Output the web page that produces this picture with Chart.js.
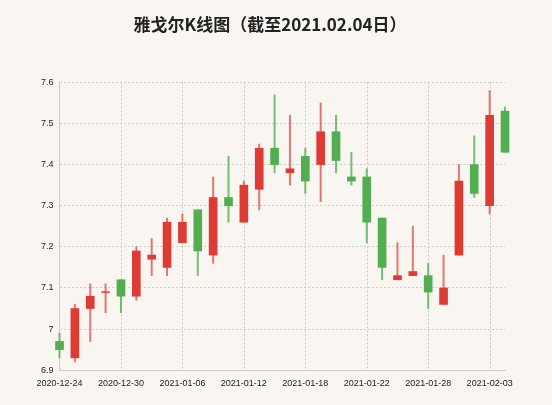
<!DOCTYPE html>
<html><head><meta charset="utf-8">
<script src="https://cdn.jsdelivr.net/npm/chart.js@4"></script>
<style>body{margin:0;background:#f9f6f1}#c{width:552px;height:405px}</style>
</head><body><div id="c"><canvas id="cv"></canvas></div>
<script>
const dates = ['2020-12-24','2020-12-25','2020-12-28','2020-12-29','2020-12-30','2020-12-31','2021-01-04','2021-01-05','2021-01-06','2021-01-07','2021-01-08','2021-01-11','2021-01-12','2021-01-13','2021-01-14','2021-01-15','2021-01-18','2021-01-19','2021-01-20','2021-01-21','2021-01-22','2021-01-25','2021-01-26','2021-01-27','2021-01-28','2021-01-29','2021-02-01','2021-02-02','2021-02-03','2021-02-04'];
const opens  = [6.97,6.93,7.05,7.09,7.12,7.08,7.17,7.15,7.21,7.29,7.18,7.32,7.26,7.34,7.44,7.38,7.42,7.40,7.48,7.37,7.37,7.27,7.12,7.13,7.13,7.06,7.18,7.40,7.30,7.53];
const closes = [6.95,7.05,7.08,7.09,7.08,7.19,7.18,7.26,7.26,7.19,7.32,7.30,7.35,7.44,7.40,7.39,7.36,7.48,7.41,7.36,7.26,7.15,7.13,7.14,7.09,7.10,7.36,7.33,7.52,7.43];
const highs  = [6.99,7.06,7.11,7.11,7.12,7.20,7.22,7.27,7.28,7.29,7.37,7.42,7.36,7.45,7.57,7.52,7.44,7.55,7.52,7.43,7.39,7.27,7.21,7.25,7.16,7.18,7.40,7.47,7.58,7.54];
const lows   = [6.93,6.92,6.97,7.04,7.04,7.07,7.13,7.13,7.21,7.13,7.16,7.26,7.26,7.29,7.38,7.35,7.33,7.31,7.38,7.35,7.21,7.12,7.12,7.13,7.05,7.06,7.18,7.32,7.28,7.43];

const up = '#dd3c35', down = '#52ae50';
const col = opens.map((o, i) => closes[i] >= o ? up : down);
const wickCol = col.map(c => c === up ? 'rgba(221,60,53,0.7)' : 'rgba(82,174,80,0.8)');

Chart.defaults.font.family = 'Liberation Sans';

new Chart(document.getElementById('cv'), {
  type: 'bar',
  data: {
    labels: dates,
    datasets: [
      {
        data: opens.map((o, i) => o === closes[i] ? [o - 0.001, o + 0.001] : [o, closes[i]]),
        backgroundColor: col, borderWidth: 0,
        barThickness: 8, grouped: false, order: 0, clip: false
      },
      {
        data: lows.map((l, i) => [l, highs[i]]),
        backgroundColor: wickCol, barThickness: 1.3, grouped: false, order: 1, clip: false
      }
    ]
  },
  options: {
    responsive: true, maintainAspectRatio: false, animation: false,
    layout: { padding: { left: 35, right: 47, top: 0, bottom: 16 } },
    plugins: {
      legend: { display: false }, tooltip: { enabled: false },
      title: {
        display: true, text: '雅戈尔K线图（截至2021.02.04日）',
        color: '#222', font: { size: 17, weight: 'bold', family: 'Noto Sans CJK SC' },
        padding: { top: 14, bottom: 48 }
      }
    },
    scales: {
      x: {
        offset: false,
        grid: { display: false },
        border: { color: '#ccc' },
        ticks: {
          autoSkip: false, maxRotation: 0, color: '#222', font: { size: 9 },
          padding: 0,
          callback: (v, i) => i % 4 === 0 ? dates[i] : ''
        }
      },
      y: {
        min: 6.9, max: 7.6,
        grid: { color: '#d0d0d0', tickLength: 0 },
        border: { color: '#ccc', dash: [2, 2] },
        ticks: { stepSize: 0.1, color: '#222', font: { size: 9 }, padding: 6,
          callback: v => String(Math.round(v * 10) / 10) }
      }
    }
  },
  plugins: [{
    id: 'bg',
    beforeDraw(chart) {
      const ctx = chart.ctx, a = chart.chartArea, x = chart.scales.x;
      ctx.save(); ctx.fillStyle = '#f9f6f1';
      ctx.fillRect(0, 0, chart.width, chart.height);
      ctx.strokeStyle = '#c8c8c8'; ctx.lineWidth = 1; ctx.setLineDash([2, 2]);
      dates.forEach((d, i) => {
        if (i % 4 !== 0 || i === 0) return;
        const px = Math.round(x.getPixelForValue(i)) + 0.5;
        ctx.beginPath(); ctx.moveTo(px, a.top); ctx.lineTo(px, a.bottom); ctx.stroke();
      });
      ctx.restore();
    }
  }]
});
</script></body></html>
